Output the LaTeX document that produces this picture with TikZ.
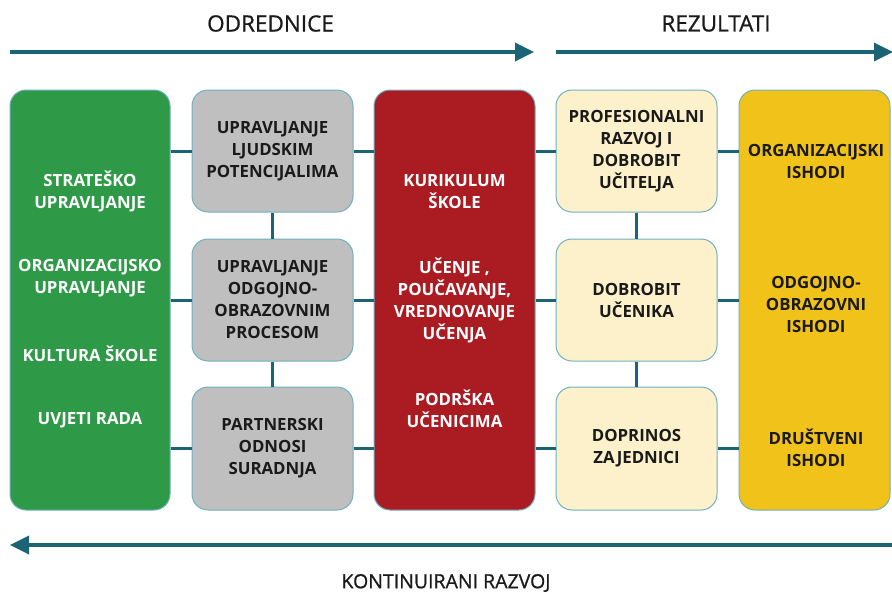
\documentclass[tikz,border=0pt]{standalone}
\usepackage{fontspec}
\setmainfont{Open Sans}
\newfontfamily\headfont[FakeBold=0.8]{Open Sans}
\usetikzlibrary{arrows.meta}
\definecolor{tealc}{HTML}{1B6475}
\definecolor{bordc}{HTML}{6FB0BF}
\definecolor{greenc}{HTML}{2E9A48}
\definecolor{grayc}{HTML}{BFBFBF}
\definecolor{redc}{HTML}{AB1C22}
\definecolor{creamc}{HTML}{FDF1CC}
\definecolor{yellowc}{HTML}{F0C21A}
\definecolor{darktext}{HTML}{1A1A1A}
\begin{document}
\begin{tikzpicture}[x=1pt,y=-1pt,
  box/.style={draw=bordc, line width=1pt, rounded corners=16pt, inner sep=0pt},
  lbl/.style={align=center, inner sep=0pt, font=\fontsize{16.8}{22}\selectfont\bfseries},
  conn/.style={draw=tealc, line width=3pt},
  bigarrow/.style={draw=tealc, line width=3.5pt, -{Triangle[length=19pt,width=18pt]}},
  head/.style={inner sep=0pt, text=darktext, font=\headfont\fontsize{22.5}{26}\selectfont}]
\useasboundingbox (0,0) rectangle (892,595);
% headings and arrows
\node[head] (h1) at (270.5,23.5) {ODREDNICE};
\node[head] (h2) at (716,23.5) {REZULTATI};
\node[head, font=\headfont\fontsize{19.5}{23}\selectfont] (h3) at (446,583) {KONTINUIRANI RAZVOJ};
\coordinate (a1s) at (10,52);
\coordinate (a1e) at (534,52);
\coordinate (a2s) at (556,52);
\coordinate (a2e) at (893,52);
\coordinate (a3s) at (892,545);
\coordinate (a3e) at (10,545);
\draw[bigarrow] (a1s) -- (a1e);
\draw[bigarrow] (a2s) -- (a2e);
\draw[bigarrow] (a3s) -- (a3e);
% boxes
\node[box, fill=greenc, minimum width=160pt, minimum height=420pt] (green) at (90,300) {};
\node[box, fill=grayc, minimum width=161pt, minimum height=122pt] (g1) at (272.5,151) {};
\node[box, fill=grayc, minimum width=161pt, minimum height=122pt] (g2) at (272.5,300) {};
\node[box, fill=grayc, minimum width=161pt, minimum height=123pt] (g3) at (272.5,448.5) {};
\node[box, fill=redc, minimum width=161pt, minimum height=420pt] (red) at (454.5,300) {};
\node[box, fill=creamc, minimum width=161pt, minimum height=122pt] (c1) at (636.5,151) {};
\node[box, fill=creamc, minimum width=161pt, minimum height=122pt] (c2) at (636.5,300) {};
\node[box, fill=creamc, minimum width=161pt, minimum height=123pt] (c3) at (636.5,448.5) {};
\node[box, fill=yellowc, minimum width=151pt, minimum height=420pt] (yellow) at (814.5,300) {};
% connectors
\draw[conn] (green.east |- g1) -- (g1.west);
\draw[conn] (green.east |- g2) -- (g2.west);
\draw[conn] (green.east |- g3) -- (g3.west);
\draw[conn] (g1.east) -- (red.west |- g1);
\draw[conn] (g2.east) -- (red.west |- g2);
\draw[conn] (g3.east) -- (red.west |- g3);
\draw[conn] (red.east |- c1) -- (c1.west);
\draw[conn] (red.east |- c2) -- (c2.west);
\draw[conn] (red.east |- c3) -- (c3.west);
\draw[conn] (c1.east) -- (yellow.west |- c1);
\draw[conn] (c2.east) -- (yellow.west |- c2);
\draw[conn] (c3.east) -- (yellow.west |- c3);
\draw[conn] (g1.south) -- (g2.north);
\draw[conn] (g2.south) -- (g3.north);
\draw[conn] (c1.south) -- (c2.north);
\draw[conn] (c2.south) -- (c3.north);
% green texts
\node[lbl, text=white] (t1) at (90,191.5) {STRATEŠKO\\UPRAVLJANJE};
\node[lbl, text=white] (t2) at (90,278) {ORGANIZACIJSKO\\UPRAVLJANJE};
\node[lbl, text=white] (t3) at (90,354) {KULTURA ŠKOLE};
\node[lbl, text=white] (t4) at (90,420) {UVJETI RADA};
% gray texts
\node[lbl, text=darktext] (t5) at (g1) {UPRAVLJANJE\\LJUDSKIM\\POTENCIJALIMA};
\node[lbl, text=darktext] (t6) at (g2) {UPRAVLJANJE\\ODGOJNO-\\OBRAZOVNIM\\PROCESOM};
\node[lbl, text=darktext] (t7) at (g3) {PARTNERSKI\\ODNOSI\\SURADNJA};
% red texts
\node[lbl, text=white] (t8) at (454.5,191.5) {KURIKULUM\\ŠKOLE};
\node[lbl, text=white] (t9) at (454.5,300) {UČENJE ,\\POUČAVANJE,\\VREDNOVANJE\\UČENJA};
\node[lbl, text=white] (t10) at (454.5,409) {PODRŠKA\\UČENICIMA};
% cream texts
\node[lbl, text=darktext] (t11) at (c1) {PROFESIONALNI\\RAZVOJ I\\DOBROBIT\\UČITELJA};
\node[lbl, text=darktext] (t12) at (c2) {DOBROBIT\\UČENIKA};
\node[lbl, text=darktext] (t13) at (636.5,448) {DOPRINOS\\ZAJEDNICI};
% yellow texts
\node[lbl, text=darktext] (t14) at (816,161) {ORGANIZACIJSKI\\ISHODI};
\node[lbl, text=darktext] (t15) at (816,304) {ODGOJNO-\\OBRAZOVNI\\ISHODI};
\node[lbl, text=darktext] (t16) at (816,448) {DRUŠTVENI\\ISHODI};
\end{tikzpicture}
\end{document}
